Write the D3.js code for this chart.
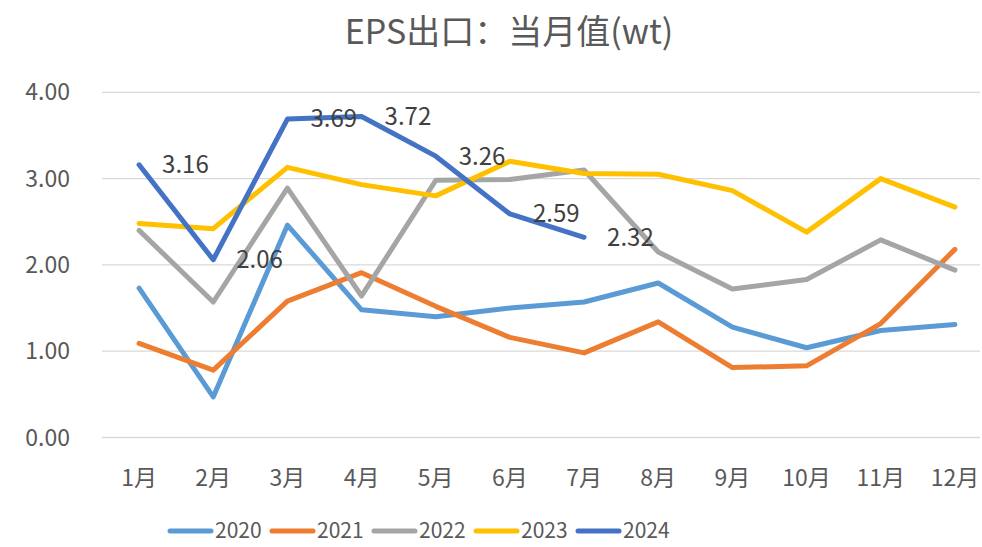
<!DOCTYPE html>
<html lang="zh">
<head>
<meta charset="UTF-8">
<title>EPS出口：当月值(wt)</title>
<script src="https://d3js.org/d3.v7.min.js"></script>
<style>
    body { margin: 0; background: #fff; font-family: "Microsoft YaHei", "Noto Sans CJK SC", "Noto Sans", sans-serif; }
    svg { display: block; }
</style>
</head>
<body>
<script>
    const months = ["1月", "2月", "3月", "4月", "5月", "6月", "7月", "8月", "9月", "10月", "11月", "12月"];
    const yTicks = [0, 1, 2, 3, 4];
    const years = ["2020", "2021", "2022", "2023", "2024"];
    const colors = ["#5B9BD5", "#ED7D31", "#A5A5A5", "#FFC000", "#4472C4"];

    const v2020 = [1.73, 0.47, 2.46, 1.48, 1.40, 1.50, 1.57, 1.79, 1.28, 1.04, 1.24, 1.31];
    const v2021 = [1.09, 0.78, 1.58, 1.91, 1.52, 1.16, 0.98, 1.34, 0.81, 0.83, 1.32, 2.18];
    const v2022 = [2.40, 1.57, 2.89, 1.64, 2.98, 2.99, 3.10, 2.15, 1.72, 1.83, 2.29, 1.94];
    const v2023 = [2.48, 2.42, 3.13, 2.93, 2.80, 3.20, 3.06, 3.05, 2.86, 2.38, 3.00, 2.67];
    const v2024 = [3.16, 2.06, 3.69, 3.72, 3.26, 2.59, 2.32];
    const series = [v2020, v2021, v2022, v2023, v2024];

    const width = 982, height = 547;
    const svg = d3.select("body").append("svg")
        .attr("width", width).attr("height", height);

    const x = d3.scaleBand().domain(months).range([102, 992]);
    const y = d3.scaleLinear().domain([0, 4]).range([437.5, 92.3]);
    const cx = m => x(m) + x.bandwidth() / 2;

    // title
    svg.append("text")
        .attr("x", 509).attr("y", 44)
        .attr("text-anchor", "middle")
        .attr("fill", "#595959")
        .style("font-size", "34px")
        .text("EPS出口：当月值(wt)");

    // grid + y labels
    svg.append("g").selectAll("line").data(yTicks).join("line")
        .attr("x1", 102).attr("x2", 980)
        .attr("y1", d => y(d)).attr("y2", d => y(d))
        .attr("stroke", "#D9D9D9").attr("stroke-width", 1.3);

    svg.append("g").selectAll("text").data(yTicks).join("text")
        .attr("x", 70).attr("y", d => y(d))
        .attr("dy", "0.35em")
        .attr("text-anchor", "end")
        .attr("fill", "#595959")
        .style("font-size", "23px")
        .text(d => d3.format(".2f")(d));

    // x labels
    svg.append("g").selectAll("text").data(months).join("text")
        .attr("x", d => cx(d)).attr("y", 478)
        .attr("dy", "0.35em")
        .attr("text-anchor", "middle")
        .attr("fill", "#595959")
        .style("font-size", "23px")
        .text(d => d);

    // lines
    const line = d3.line()
        .x((d, i) => cx(months[i]))
        .y(d => y(d));

    svg.append("g").selectAll("path").data(series).join("path")
        .attr("d", d => line(d))
        .attr("fill", "none")
        .attr("stroke", (d, i) => colors[i])
        .attr("stroke-width", 5)
        .attr("stroke-linejoin", "round")
        .attr("stroke-linecap", "round");

    // data labels for 2024
    svg.append("g").selectAll("text").data(v2024).join("text")
        .attr("x", (d, i) => cx(months[i]) + 23)
        .attr("y", d => y(d))
        .attr("dy", "0.35em")
        .attr("fill", "#404040")
        .style("font-size", "24px")
        .text(d => d3.format(".2f")(d));

    // legend
    const leg = svg.append("g").selectAll("g").data(years).join("g")
        .attr("transform", (d, i) => `translate(${170 + i * 102},531)`);
    leg.append("line")
        .attr("x1", 0).attr("x2", 41)
        .attr("stroke", (d, i) => colors[i])
        .attr("stroke-width", 5)
        .attr("stroke-linecap", "round");
    leg.append("text")
        .attr("x", 45).attr("dy", "0.35em")
        .attr("fill", "#595959")
        .style("font-size", "21px")
        .text(d => d);
</script>
</body>
</html>
